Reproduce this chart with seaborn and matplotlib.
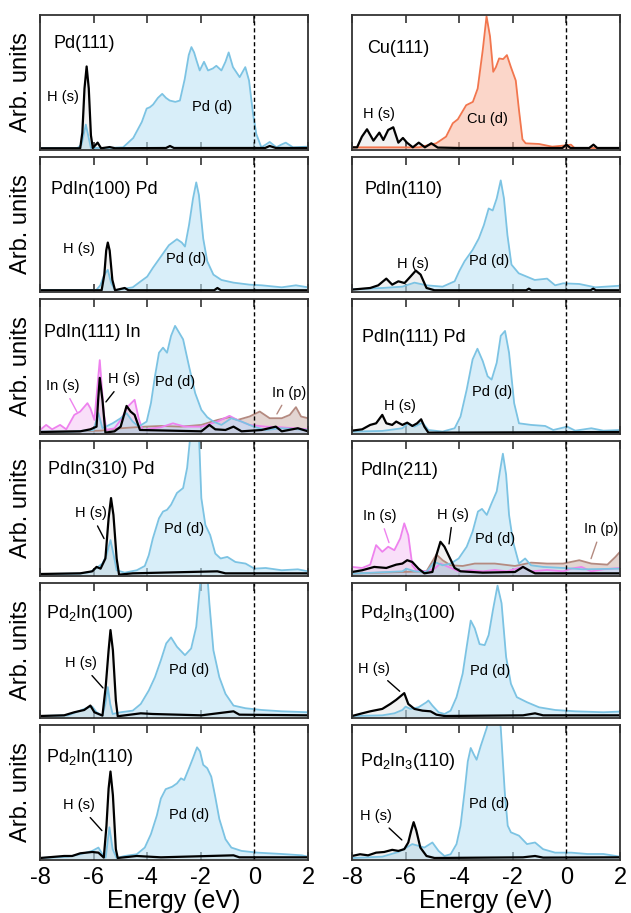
import matplotlib
matplotlib.use('Agg')
import matplotlib.pyplot as plt
import seaborn as sns

# ---------------------------------------------------------------
# PDOS data: energy (eV) vs. intensity (arb., panel height = 1)
# ---------------------------------------------------------------
# Pd(111)
pd111_pd_e = [-8, -6.6, -6.45, -6.29, -6.1, -5.5, -4.9, -4.52, -4.2, -4.02, -3.9, -3.78, -3.6, -3.44, -3.3,
              -3.16, -2.95, -2.78, -2.6, -2.45, -2.35, -2.25, -2.16, -2.04, -1.88, -1.73, -1.55, -1.42, -1.23, -1.08,
              -0.96, -0.8, -0.55, -0.34, -0.2, -0.05, 0.07, 0.26, 0.42, 0.57, 0.82, 1.0, 1.17, 1.44, 2]
pd111_pd_y = [0.005, 0.005, 0.03, 0.18, 0.005, 0.005, 0.01, 0.08, 0.2, 0.30, 0.31, 0.33, 0.38, 0.41, 0.38,
              0.36, 0.35, 0.36, 0.52, 0.70, 0.76, 0.72, 0.66, 0.585, 0.65, 0.585, 0.60, 0.62, 0.585, 0.65,
              0.72, 0.61, 0.535, 0.61, 0.51, 0.26, 0.11, 0.01, 0.03, 0.05, 0.01, 0.03, 0.045, 0.01, 0.015]
pd111_h_e = [-8, -6.5, -6.42, -6.34, -6.26, -6.18, -6.1, -6.03, -5.85, -5.72, -5.4, -5.2, -3.3, -3.15, -3.0,
             0.4, 0.57, 0.8, 2]
pd111_h_y = [0.003, 0.003, 0.12, 0.45, 0.615, 0.45, 0.1, 0.005, 0.045, 0.003, 0.012, 0.003, 0.005, 0.02, 0.005,
             0.005, 0.02, 0.005, 0.005]

# Cu(111)
cu111_cu_e = [-8, -5.5, -4.86, -4.49, -4.24, -4.05, -3.74, -3.49, -3.31, -3.12, -2.98, -2.85, -2.73, -2.63,
              -2.51, -2.36, -2.22, -2.07, -1.89, -1.77, -1.64, -1.52, -1.02, -0.53, 0, 0.17, 0.3, 2]
cu111_cu_y = [0.01, 0.01, 0.04, 0.09, 0.19, 0.22, 0.325, 0.35, 0.45, 0.74, 0.99, 0.84, 0.575, 0.61,
              0.675, 0.67, 0.70, 0.61, 0.51, 0.29, 0.07, 0.04, 0.035, 0.015, 0.025, 0.03, 0.005, 0.005]
cu111_h_e = [-8, -7.81, -7.63, -7.44, -7.2, -6.98, -6.83, -6.65, -6.46, -6.27, -6.1, -5.95, -5.73, -5.51,
             -5.28, -5.04, -4.8, -4.0, -0.15, 0, 0.15, 0.85, 1.01, 1.15, 2]
cu111_h_y = [0.01, 0.01, 0.09, 0.145, 0.06, 0.12, 0.065, 0.14, 0.16, 0.045, 0.08, 0.045, 0.01, 0.045,
             0.01, 0.04, 0.008, 0.005, 0.005, 0.03, 0.005, 0.005, 0.03, 0.005, 0.005]

# PdIn(100) Pd
pdin100_pd_e = [-8, -5.9, -5.75, -5.6, -5.47, -5.35, -5.2, -4.99, -4.54, -4.24, -4.0, -3.79, -3.49, -3.19, -2.89,
                -2.71, -2.59, -2.44, -2.29, -2.17, -2.07, -1.91, -1.76, -1.53, -1.23, -0.78, -0.18, 0.27, 1.02,
                1.55, 2]
pdin100_pd_y = [0.005, 0.005, 0.04, 0.12, 0.156, 0.06, 0.005, 0.01, 0.025, 0.07, 0.105, 0.17, 0.255, 0.34, 0.385,
                0.36, 0.33, 0.49, 0.69, 0.81, 0.715, 0.39, 0.22, 0.12, 0.08, 0.06, 0.045, 0.04, 0.025,
                0.04, 0.025]
pdin100_h_e = [-8, -5.7, -5.6, -5.53, -5.47, -5.4, -5.3, -5.2, -4.84, -4.7, -1.5, -1.38, -1.25, 2]
pdin100_h_y = [0.003, 0.003, 0.12, 0.3, 0.36, 0.3, 0.08, 0.003, 0.02, 0.003, 0.003, 0.02, 0.003, 0.003]

# PdIn(110)
pdin110_pd_e = [-8, -6.87, -6.12, -5.67, -5.22, -4.62, -4.17, -4.0, -3.8, -3.5, -3.27, -3.08, -2.9, -2.75,
                -2.6, -2.45, -2.33, -2.2, -2.05, -1.78, -1.48, -1.18, -0.72, -0.42, -0.12, 0.48, 1.08, 2]
pdin110_pd_y = [0.01, 0.02, 0.03, 0.06, 0.04, 0.03, 0.07, 0.145, 0.22, 0.305, 0.39, 0.49, 0.615, 0.60,
                0.69, 0.825, 0.69, 0.415, 0.195, 0.13, 0.105, 0.08, 0.09, 0.04, 0.055, 0.05, 0.025, 0.037]
pdin110_h_e = [-8, -7.32, -7.02, -6.72, -6.5, -6.27, -6.04, -5.82, -5.62, -5.44, -5.22, -4.92, -1.5, -1.4,
               -1.3, 0.9, 1.0, 1.1, 2]
pdin110_h_y = [0.008, 0.02, 0.04, 0.09, 0.045, 0.07, 0.057, 0.105, 0.15, 0.12, 0.02, 0.003, 0.003, 0.015,
               0.003, 0.003, 0.015, 0.003, 0.003]

# PdIn(111) In
pdin111in_pd_e = [-8, -6.8, -6.0, -5.82, -5.67, -5.29, -4.99, -4.77, -4.54, -4.32, -4.02, -3.86, -3.71, -3.56,
                  -3.41, -3.26, -3.11, -2.96, -2.81, -2.66, -2.44, -2.21, -1.98, -1.76, -1.53, -1.23, -0.86,
                  -0.48, -0.03, 0.42, 1.02, 2]
pdin111in_pd_y = [0.008, 0.008, 0.02, 0.146, 0.033, 0.07, 0.108, 0.146, 0.083, 0.045, 0.083, 0.221, 0.422, 0.598,
                  0.636, 0.598, 0.724, 0.799, 0.749, 0.698, 0.497, 0.296, 0.171, 0.116, 0.083, 0.058, 0.108,
                  0.083, 0.045, 0.02, 0.033, 0.02]
pdin111in_h_e = [-8, -6.5, -6.12, -5.89, -5.83, -5.77, -5.67, -5.56, -5.22, -4.99, -4.77, -4.62, -4.47, -4.27,
                 -1.98, -1.68, -1.46, -1.08, -0.78, -0.48, 0.27, 0.8, 1.02, 1.62, 2]
pdin111in_h_y = [0.005, 0.01, 0.025, 0.045, 0.246, 0.41, 0.246, 0.0, 0.01, 0.045, 0.20, 0.158, 0.133, 0.02,
                 0.01, 0.058, 0.025, 0.02, 0.045, 0.01, 0.02, 0.045, 0.01, 0.033, 0.01]
pdin111in_ins_e = [-8, -7.77, -7.55, -7.25, -7.02, -6.72, -6.5, -6.23, -6.12, -5.97, -5.77, -5.62, -5.52, -5.22,
                   -4.99, -4.72, -4.47, -4.32, -4.17, -3.79, -3.49, -3.04, -2.59, -1.98, -1.38, -0.93, -0.63,
                   -0.18, 0.42, 1.02, 2]
pdin111in_ins_y = [0.02, 0.058, 0.025, 0.058, 0.025, 0.133, 0.158, 0.221, 0.183, 0.095, 0.543, 0.146, 0.02, 0.033,
                   0.095, 0.196, 0.246, 0.108, 0.02, 0.033, 0.04, 0.07, 0.045, 0.045, 0.083, 0.126, 0.095,
                   0.058, 0.045, 0.04, 0.025]
pdin111in_inp_e = [-8, -5.74, -4.99, -4.09, -3.49, -2.74, -1.98, -1.38, -0.93, -0.63, -0.18, 0.2, 0.57, 1.02,
                   1.32, 1.55, 1.74, 2]
pdin111in_inp_y = [0.005, 0.015, 0.033, 0.045, 0.05, 0.045, 0.058, 0.095, 0.116, 0.095, 0.121, 0.158, 0.108, 0.108,
                   0.133, 0.191, 0.121, 0.108]

# PdIn(111) Pd
pdin111pd_pd_e = [-8, -6.87, -6.12, -5.9, -5.67, -5.37, -5.15, -4.62, -4.17, -3.95, -3.72, -3.5, -3.32, -3.12,
                  -2.94, -2.79, -2.6, -2.45, -2.29, -2.14, -1.95, -1.77, -1.32, -0.79, -0.49, 0.03, 0.33, 0.93,
                  1.38, 2]
pdin111pd_pd_y = [0.008, 0.013, 0.033, 0.07, 0.045, 0.075, 0.02, 0.008, 0.033, 0.121, 0.322, 0.548, 0.628, 0.535,
                  0.422, 0.397, 0.523, 0.724, 0.761, 0.598, 0.221, 0.07, 0.058, 0.05, 0.02, 0.045, 0.015, 0.033,
                  0.015, 0.02]
pdin111pd_h_e = [-8, -7.62, -7.32, -7.1, -6.87, -6.72, -6.5, -6.35, -6.12, -5.94, -5.75, -5.57, -5.42, -5.3,
                 -5.15, 2]
pdin111pd_h_y = [0.015, 0.025, 0.058, 0.07, 0.133, 0.07, 0.058, 0.083, 0.058, 0.075, 0.05, 0.07, 0.10, 0.045,
                 0.0, 0.005]

# PdIn(310) Pd
pdin310_pd_e = [-8, -6.5, -6.12, -5.89, -5.67, -5.52, -5.37, -5.25, -5.14, -4.84, -4.39, -4.09, -3.94, -3.79,
                -3.56, -3.41, -3.26, -3.11, -2.89, -2.66, -2.51, -2.41, -2.29, -2.17, -2.06, -1.98, -1.83, -1.65,
                -1.46, -1.26, -1.01, -0.71, -0.33, 0, 0.42, 1.02, 1.62, 2]
pdin310_pd_y = [0.005, 0.008, 0.02, 0.05, 0.083, 0.146, 0.259, 0.146, 0.033, 0.015, 0.033, 0.065, 0.146, 0.271,
                0.422, 0.472, 0.485, 0.523, 0.611, 0.648, 0.799, 1.0, 1.23, 1.23, 1.0, 0.573, 0.372, 0.296,
                0.158, 0.121, 0.133, 0.095, 0.083, 0.045, 0.05, 0.033, 0.04, 0.025]
pdin310_h_e = [-8, -6.5, -6.05, -5.89, -5.74, -5.56, -5.44, -5.35, -5.26, -5.14, -5.05, -4.54, -1.38, -1.08, 2]
pdin310_h_y = [0.005, 0.01, 0.025, 0.058, 0.045, 0.121, 0.422, 0.573, 0.447, 0.121, 0.0, 0.01, 0.025, 0.01, 0.01]

# PdIn(211)
pdin211_pd_e = [-8, -6.12, -5.97, -5.67, -5.22, -4.92, -4.62, -4.32, -4.02, -3.72, -3.5, -3.3, -3.15, -2.97,
                -2.79, -2.6, -2.48, -2.37, -2.25, -2.14, -1.99, -1.77, -1.54, -1.32, -0.87, -0.12, 0.63, 2]
pdin211_pd_y = [0.008, 0.025, 0.045, 0.025, 0.02, 0.095, 0.07, 0.083, 0.121, 0.209, 0.322, 0.472, 0.492, 0.447,
                0.535, 0.623, 0.774, 0.905, 0.749, 0.447, 0.246, 0.083, 0.121, 0.07, 0.058, 0.05, 0.04, 0.045]
pdin211_h_e = [-8, -7.62, -7.17, -6.72, -6.35, -6.12, -5.94, -5.75, -5.52, -5.3, -5.0, -4.85, -4.7, -4.55,
               -4.4, -4.17, -3.95, -3.12, -1.92, -1.62, -1.4, -1.17, 2]
pdin211_h_y = [0.02, 0.033, 0.058, 0.05, 0.075, 0.083, 0.108, 0.095, 0.045, 0.01, 0.02, 0.146, 0.246, 0.209,
               0.146, 0.05, 0.025, 0.015, 0.02, 0.058, 0.033, 0.01, 0.01]
pdin211_ins_e = [-8, -7.62, -7.32, -7.1, -6.87, -6.65, -6.42, -6.2, -6.05, -5.9, -5.75, -5.6, -5.22, -4.92,
                 -4.7, -4.4, -4.02, -3.57, -3.12, -2.67, -2.22, -1.62, -1.32, -0.72, -0.12, 0.18, 0.56, 0.93,
                 1.38, 2]
pdin211_ins_y = [0.058, 0.05, 0.075, 0.221, 0.171, 0.209, 0.183, 0.271, 0.384, 0.296, 0.07, 0.033, 0.025, 0.045,
                 0.083, 0.058, 0.025, 0.033, 0.025, 0.035, 0.025, 0.058, 0.025, 0.035, 0.025, 0.045, 0.058, 0.025,
                 0.04, 0.05]
pdin211_inp_e = [-8, -6.12, -5.22, -4.85, -4.62, -4.32, -3.87, -3.42, -2.67, -1.92, -1.32, -0.72, -0.12, 0.48,
                 0.93, 1.53, 1.83, 2]
pdin211_inp_y = [0.008, 0.02, 0.025, 0.151, 0.108, 0.07, 0.065, 0.083, 0.083, 0.065, 0.09, 0.083, 0.083, 0.108,
                 0.083, 0.075, 0.133, 0.171]

# Pd2In(100)
pd2in100_pd_e = [-8, -6.95, -6.5, -6.2, -6.05, -5.89, -5.67, -5.56, -5.47, -5.38, -5.29, -4.99, -4.54, -4.24,
                 -3.94, -3.71, -3.49, -3.29, -3.11, -2.89, -2.59, -2.36, -2.17, -2.03, -1.94, -1.8, -1.68, -1.53,
                 -1.31, -1.08, -0.78, -0.33, 0.27, 1.02, 2]
pd2in100_pd_y = [0.005, 0.01, 0.045, 0.07, 0.075, 0.033, 0.008, 0.095, 0.221, 0.095, 0.02, 0.033, 0.045, 0.095,
                 0.196, 0.296, 0.422, 0.548, 0.593, 0.523, 0.46, 0.51, 0.673, 0.975, 1.18, 1.18, 0.849, 0.497,
                 0.296, 0.171, 0.083, 0.063, 0.05, 0.04, 0.033]
pd2in100_h_e = [-8, -7.1, -6.72, -6.35, -6.12, -5.97, -5.67, -5.55, -5.44, -5.37, -5.28, -5.17, -5.1, -4.24,
                -3.79, -1.98, -0.78, -0.56, 2]
pd2in100_h_y = [0.005, 0.01, 0.033, 0.05, 0.083, 0.033, 0.008, 0.221, 0.497, 0.648, 0.497, 0.121, 0.003, 0.025,
                0.02, 0.01, 0.04, 0.015, 0.01]

# Pd2In3(100)
pd2in3100_pd_e = [-8, -6.87, -6.42, -6.12, -6.0, -5.82, -5.52, -5.22, -5.15, -5.0, -4.77, -4.55, -4.32, -4.1,
                  -3.87, -3.72, -3.57, -3.42, -3.24, -3.05, -2.9, -2.74, -2.57, -2.42, -2.25, -2.07, -1.85, -1.47,
                  -1.02, -0.42, 0.33, 1.38, 2]
pd2in3100_pd_y = [0.005, 0.01, 0.025, 0.05, 0.075, 0.058, 0.07, 0.108, 0.121, 0.083, 0.033, 0.02, 0.045, 0.146,
                  0.322, 0.523, 0.719, 0.661, 0.543, 0.535, 0.611, 0.799, 0.98, 0.849, 0.447, 0.246, 0.146, 0.108,
                  0.07, 0.05, 0.04, 0.033, 0.038]
pd2in3100_h_e = [-8, -7.62, -7.32, -6.87, -6.57, -6.35, -6.2, -6.05, -5.9, -5.67, -5.37, -5.07, -4.85, -4.55,
                 -1.62, -1.17, -0.87, 2]
pd2in3100_h_y = [0.005, 0.025, 0.04, 0.058, 0.095, 0.126, 0.151, 0.176, 0.095, 0.058, 0.045, 0.04, 0.015, 0.005,
                 0.01, 0.025, 0.01, 0.01]

# Pd2In(110)
pd2in110_pd_e = [-8, -6.95, -6.5, -6.05, -5.82, -5.67, -5.55, -5.41, -5.29, -5.14, -4.84, -4.39, -4.09, -3.86,
                 -3.64, -3.49, -3.31, -3.07, -2.89, -2.74, -2.62, -2.44, -2.29, -2.14, -2.03, -1.91, -1.76, -1.61,
                 -1.46, -1.31, -1.08, -0.86, -0.48, 0.12, 1.02, 1.77, 2]
pd2in110_pd_y = [0.005, 0.015, 0.033, 0.058, 0.083, 0.033, 0.008, 0.235, 0.071, 0.005, 0.02, 0.033, 0.083, 0.184,
                 0.323, 0.45, 0.52, 0.538, 0.563, 0.601, 0.588, 0.677, 0.753, 0.833, 0.803, 0.702, 0.677, 0.614,
                 0.462, 0.298, 0.146, 0.083, 0.058, 0.045, 0.035, 0.025, 0.015]
pd2in110_h_e = [-8, -7.1, -6.8, -6.5, -6.05, -5.82, -5.62, -5.52, -5.44, -5.37, -5.28, -5.17, -5.1, -4.39,
                -3.49, -0.78, -0.56, 2]
pd2in110_h_y = [0.005, 0.02, 0.02, 0.04, 0.05, 0.045, 0.008, 0.247, 0.525, 0.652, 0.475, 0.071, 0.005, 0.02,
                0.01, 0.025, 0.01, 0.01]

# Pd2In3(110)
pd2in3110_pd_e = [-8, -6.87, -6.27, -5.97, -5.75, -5.52, -5.3, -5.0, -4.77, -4.55, -4.32, -4.1, -3.95, -3.8,
                  -3.68, -3.57, -3.45, -3.35, -3.2, -2.97, -2.82, -2.55, -2.45, -2.3, -2.19, -2.07, -1.77, -1.47,
                  -1.17, -0.87, -0.42, 0.18, 0.78, 1.38, 2]
pd2in3110_pd_y = [0.005, 0.015, 0.05, 0.083, 0.109, 0.096, 0.083, 0.121, 0.058, 0.02, 0.033, 0.109, 0.247, 0.5,
                  0.727, 0.828, 0.778, 0.74, 0.841, 0.98, 1.16, 1.16, 0.98, 0.5, 0.247, 0.197, 0.172, 0.109,
                  0.121, 0.071, 0.045, 0.045, 0.035, 0.035, 0.015]
pd2in3110_h_e = [-8, -7.7, -7.4, -7.1, -6.8, -6.5, -6.27, -6.05, -5.9, -5.79, -5.7, -5.6, -5.45, -5.22, -4.92,
                 -1.62, -1.17, -0.87, 2]
pd2in3110_h_y = [0.02, 0.033, 0.025, 0.045, 0.05, 0.066, 0.058, 0.071, 0.121, 0.21, 0.273, 0.21, 0.083, 0.02,
                 0.005, 0.01, 0.02, 0.008, 0.01]

energy_ticks = [-8, -6, -4, -2, 0, 2]

# line colour, fill colour, fill alpha, line width
STYLE = {
    'pd':  ('#7cc3e3', '#bfe3f5', 0.6, 1.3),
    'cu':  ('#f2764e', '#f9bba6', 0.6, 1.3),
    'ins': ('#ee82ee', '#f2b8f2', 0.45, 1.3),
    'inp': ('#b48a80', '#b99690', 0.4, 1.3),
    'h':   ('black', '#8c8c8c', 0.12, 1.6),
}

PD_LBL = 'Pd (d)'
H_LBL = 'H (s)'

panels = [
    dict(title='Pd(111)', tpos=(-7.51, 0.79),
         series=[('pd', pd111_pd_e, pd111_pd_y), ('h', pd111_h_e, pd111_h_y)],
         labels=[(H_LBL, (-7.14, 0.39), None, 'black'), (PD_LBL, (-1.58, 0.31), None, 'black')]),
    dict(title='Cu(111)', tpos=(-7.44, 0.75),
         series=[('cu', cu111_cu_e, cu111_cu_y), ('h', cu111_h_e, cu111_h_y)],
         labels=[(H_LBL, (-6.99, 0.26), None, 'black'), ('Cu (d)', (-2.96, 0.22), None, 'black')]),
    dict(title='PdIn(100) Pd', tpos=(-7.6, 0.755),
         series=[('pd', pdin100_pd_e, pdin100_pd_y), ('h', pdin100_h_e, pdin100_h_y)],
         labels=[(H_LBL, (-6.54, 0.31), None, 'black'), (PD_LBL, (-2.55, 0.24), None, 'black')]),
    dict(title='PdIn(110)', tpos=(-7.55, 0.755),
         series=[('pd', pdin110_pd_e, pdin110_pd_y), ('h', pdin110_h_e, pdin110_h_y)],
         labels=[(H_LBL, (-5.72, 0.20), None, 'black'), (PD_LBL, (-2.89, 0.22), None, 'black')]),
    dict(title='PdIn(111) In', tpos=(-7.85, 0.75),
         series=[('inp', pdin111in_inp_e, pdin111in_inp_y), ('ins', pdin111in_ins_e, pdin111in_ins_y),
                 ('pd', pdin111in_pd_e, pdin111in_pd_y), ('h', pdin111in_h_e, pdin111in_h_y)],
         labels=[('In (s)', (-7.14, 0.35), (-6.62, 0.155), '#ee82ee'),
                 (H_LBL, (-4.87, 0.40), (-5.54, 0.23), 'black'),
                 (PD_LBL, (-2.96, 0.38), None, 'black'),
                 ('In (p)', (1.29, 0.30), (0.84, 0.14), '#b48a80')]),
    dict(title='PdIn(111) Pd', tpos=(-7.63, 0.71),
         series=[('pd', pdin111pd_pd_e, pdin111pd_pd_y), ('h', pdin111pd_h_e, pdin111pd_h_y)],
         labels=[(H_LBL, (-6.21, 0.20), None, 'black'), (PD_LBL, (-2.78, 0.305), None, 'black')]),
    dict(title='PdIn(310) Pd', tpos=(-7.7, 0.79),
         series=[('pd', pdin310_pd_e, pdin310_pd_y), ('h', pdin310_h_e, pdin310_h_y)],
         labels=[(H_LBL, (-6.1, 0.46), (-5.61, 0.27), 'black'), (PD_LBL, (-2.63, 0.34), None, 'black')]),
    dict(title='PdIn(211)', tpos=(-7.7, 0.78),
         series=[('inp', pdin211_inp_e, pdin211_inp_y), ('ins', pdin211_ins_e, pdin211_ins_y),
                 ('pd', pdin211_pd_e, pdin211_pd_y), ('h', pdin211_h_e, pdin211_h_y)],
         labels=[('In (s)', (-6.96, 0.44), (-6.62, 0.24), '#ee82ee'),
                 (H_LBL, (-4.23, 0.45), (-4.38, 0.23), 'black'),
                 (PD_LBL, (-2.67, 0.27), None, 'black'),
                 ('In (p)', (1.3, 0.34), (0.92, 0.12), '#b48a80')]),
    dict(title='Pd$_2$In(100)', tpos=(-7.78, 0.77),
         series=[('pd', pd2in100_pd_e, pd2in100_pd_y), ('h', pd2in100_h_e, pd2in100_h_y)],
         labels=[(H_LBL, (-6.47, 0.40), (-5.65, 0.215), 'black'), (PD_LBL, (-2.44, 0.35), None, 'black')]),
    dict(title='Pd$_2$In$_3$(100)', tpos=(-7.7, 0.77),
         series=[('pd', pd2in3100_pd_e, pd2in3100_pd_y), ('h', pd2in3100_h_e, pd2in3100_h_y)],
         labels=[(H_LBL, (-7.18, 0.36), (-6.22, 0.19), 'black'), (PD_LBL, (-2.83, 0.34), None, 'black')]),
    dict(title='Pd$_2$In(110)', tpos=(-7.78, 0.76),
         series=[('pd', pd2in110_pd_e, pd2in110_pd_y), ('h', pd2in110_h_e, pd2in110_h_y)],
         labels=[(H_LBL, (-6.54, 0.40), (-5.69, 0.21), 'black'), (PD_LBL, (-2.44, 0.33), None, 'black')]),
    dict(title='Pd$_2$In$_3$(110)', tpos=(-7.7, 0.73),
         series=[('pd', pd2in3110_pd_e, pd2in3110_pd_y), ('h', pd2in3110_h_e, pd2in3110_h_y)],
         labels=[(H_LBL, (-7.1, 0.32), (-6.14, 0.14), 'black'), (PD_LBL, (-2.9, 0.41), None, 'black')]),
]

sns.set_theme(style='white')
plt.rcParams['font.family'] = ['Liberation Sans', 'DejaVu Sans']
plt.rcParams['mathtext.fontset'] = 'custom'
plt.rcParams['mathtext.rm'] = 'Liberation Sans'
plt.rcParams['mathtext.default'] = 'regular'
plt.rcParams['axes.unicode_minus'] = False
plt.rcParams['text.color'] = 'black'
plt.rcParams['axes.labelcolor'] = 'black'
plt.rcParams['xtick.labelcolor'] = 'black'

W, H = 631, 913
fig = plt.figure(figsize=(W / 100, H / 100), dpi=100)
fig.patch.set_facecolor('white')

col_x = [40, 352]
ax_w, ax_h = 268, 135

for i, p in enumerate(panels):
    row, col = divmod(i, 2)
    top = 15 + 142 * row
    ax = fig.add_axes([col_x[col] / W, 1 - (top + ax_h) / H, ax_w / W, ax_h / H])

    for kind, e, y in p['series']:
        lc, fc, fa, lw = STYLE[kind]
        ax.fill_between(e, 0, y, color=fc, alpha=fa, lw=0)
    for kind, e, y in p['series']:
        lc, fc, fa, lw = STYLE[kind]
        sns.lineplot(x=e, y=y, ax=ax, color=lc, lw=lw, estimator=None, sort=False)

    ax.axvline(0, color='black', lw=1.0, ls=(0, (3, 2)))
    ax.set_xlim(-8, 2)
    ax.set_ylim(-0.01, 1.0)
    ax.set_yticks([])
    ax.set_xticks(energy_ticks)
    ax.tick_params(axis='x', direction='in', top=True, bottom=True, length=6, width=1.2,
                   color='#333333', labelcolor='black', labelsize=17, pad=5)
    for s in ax.spines.values():
        s.set_color('#333333')
        s.set_linewidth(1.3)

    if row < 5:
        ax.tick_params(axis='x', labelbottom=False)
    else:
        ax.set_xlabel('Energy (eV)', fontsize=18, labelpad=0, color='black')
    if col == 0:
        ax.set_ylabel('Arb. units', fontsize=17, color='black')
        ax.yaxis.set_label_coords(-0.03, 0.5)
    else:
        ax.set_ylabel('')

    ax.text(p['tpos'][0], p['tpos'][1], p['title'], ha='left', va='center', fontsize=13, color='black')
    for txt, tpos, ppos, c in p['labels']:
        if ppos is None:
            ax.text(tpos[0], tpos[1], txt, ha='center', va='center', fontsize=10.5, color='black')
        else:
            ax.annotate(txt, xy=ppos, xytext=tpos, ha='center', va='center', fontsize=10.5, color='black',
                        arrowprops=dict(arrowstyle='-', color=c, lw=1.0, shrinkA=2, shrinkB=0))

fig.savefig('out.png', dpi=100, facecolor='white')
